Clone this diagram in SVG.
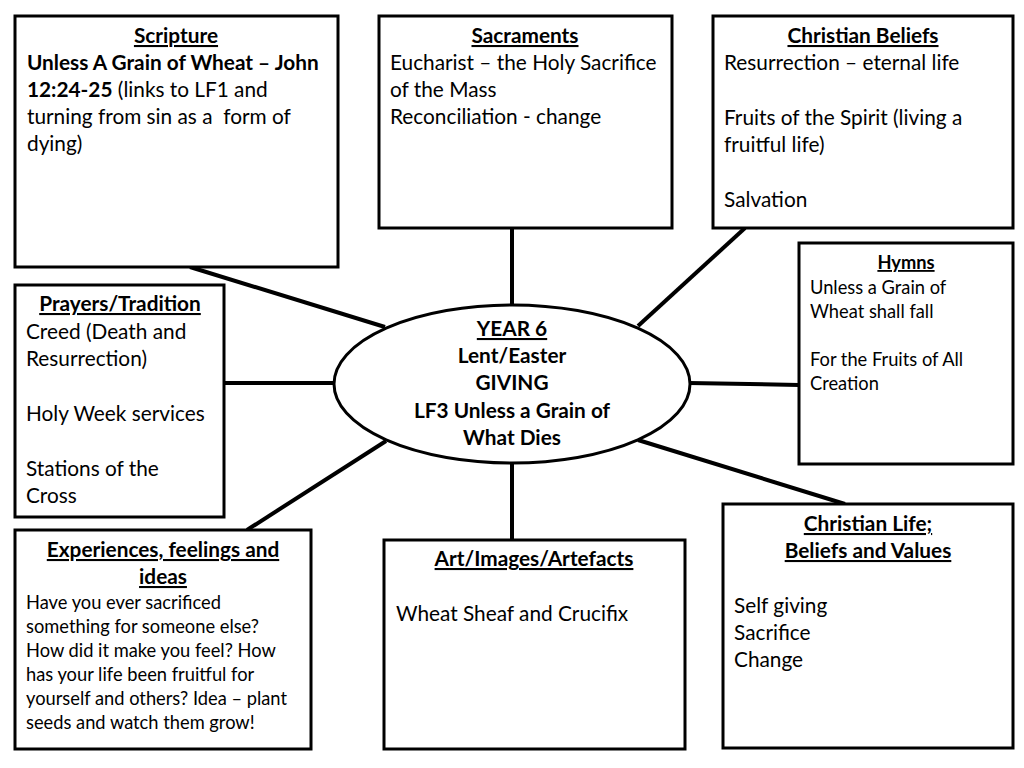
<svg xmlns="http://www.w3.org/2000/svg" width="1024" height="768" viewBox="0 0 1024 768">
<style>
.box{fill:#fff;stroke:#000;stroke-width:3}
.t{font-family:Lato,"Open Sans",sans-serif;font-size:20.8px;fill:#000}
.s{font-family:Lato,"Open Sans",sans-serif;font-size:18.3px;fill:#000}
.b{font-weight:bold}
.u{text-decoration:underline;font-weight:bold}
.c{text-anchor:middle}
.conn line{stroke:#000;stroke-width:4}
</style>
<rect width="1024" height="768" fill="#fff"/>
<g class="conn" id="connectors">
<line x1="190" y1="267" x2="385" y2="327"/>
<line x1="512" y1="228" x2="512" y2="306"/>
<line x1="745" y1="228" x2="638" y2="326"/>
<line x1="689" y1="383" x2="799" y2="385"/>
<line x1="224" y1="383" x2="334" y2="383"/>
<line x1="247" y1="530" x2="386" y2="441"/>
<line x1="512" y1="462" x2="512" y2="540"/>
<line x1="638" y1="440" x2="845" y2="504"/>
</g>
<g id="scripture">
<rect class="box" x="15" y="16" width="323" height="251"/>
<text class="t u c" x="176" y="43">Scripture</text>
<text class="t b" x="27" y="70">Unless A Grain of Wheat – John</text>
<text class="t" x="27" y="97"><tspan class="b">12:24-25</tspan> (links to LF1 and</text>
<text class="t" x="27" y="124" xml:space="preserve">turning from sin as a  form of</text>
<text class="t" x="27" y="151">dying)</text>
</g>
<g id="sacraments">
<rect class="box" x="379" y="16" width="293" height="212"/>
<text class="t u c" x="525" y="43">Sacraments</text>
<text class="t" x="390" y="70">Eucharist – the Holy Sacrifice</text>
<text class="t" x="390" y="97">of the Mass</text>
<text class="t" x="390" y="124">Reconciliation - change</text>
</g>
<g id="christian-beliefs">
<rect class="box" x="713" y="16" width="300" height="212"/>
<text class="t u c" x="863" y="43">Christian Beliefs</text>
<text class="t" x="724" y="70">Resurrection – eternal life</text>
<text class="t" x="724" y="125">Fruits of the Spirit (living a</text>
<text class="t" x="724" y="152">fruitful life)</text>
<text class="t" x="724" y="207">Salvation</text>
</g>
<g id="hymns">
<rect class="box" x="799" y="243" width="214" height="221"/>
<text class="s u c" x="906" y="269">Hymns</text>
<text class="s" x="810" y="294">Unless a Grain of</text>
<text class="s" x="810" y="318">Wheat shall fall</text>
<text class="s" x="810" y="366">For the Fruits of All</text>
<text class="s" x="810" y="390">Creation</text>
</g>
<g id="prayers">
<rect class="box" x="15" y="285" width="209" height="232"/>
<text class="t u c" x="120" y="311">Prayers/Tradition</text>
<text class="t" x="26" y="339">Creed (Death and</text>
<text class="t" x="26" y="366">Resurrection)</text>
<text class="t" x="26" y="421">Holy Week services</text>
<text class="t" x="26" y="476">Stations of the</text>
<text class="t" x="26" y="503">Cross</text>
</g>
<g id="centre">
<ellipse cx="512" cy="384" rx="178" ry="79" fill="#fff" stroke="#000" stroke-width="3"/>
<text class="t u c" x="512" y="336">YEAR 6</text>
<text class="t b c" x="512" y="363">Lent/Easter</text>
<text class="t b c" x="512" y="390">GIVING</text>
<text class="t b c" x="512" y="418">LF3 Unless a Grain of</text>
<text class="t b c" x="512" y="445">What Dies</text>
</g>
<g id="experiences">
<rect class="box" x="15" y="530" width="296" height="219"/>
<text class="t u c" x="163" y="557">Experiences, feelings and</text>
<text class="t u c" x="163" y="584">ideas</text>
<text class="s" x="26" y="609">Have you ever sacrificed</text>
<text class="s" x="26" y="633">something for someone else?</text>
<text class="s" x="26" y="657">How did it make you feel? How</text>
<text class="s" x="26" y="681">has your life been fruitful for</text>
<text class="s" x="26" y="705">yourself and others? Idea – plant</text>
<text class="s" x="26" y="729">seeds and watch them grow!</text>
</g>
<g id="art">
<rect class="box" x="384" y="540" width="301" height="209"/>
<text class="t u c" x="534" y="566">Art/Images/Artefacts</text>
<text class="t" x="396" y="621">Wheat Sheaf and Crucifix</text>
</g>
<g id="christian-life">
<rect class="box" x="723" y="504" width="290" height="244"/>
<text class="t u c" x="868" y="531">Christian Life;</text>
<text class="t u c" x="868" y="558">Beliefs and Values</text>
<text class="t" x="734" y="613">Self giving</text>
<text class="t" x="734" y="640">Sacrifice</text>
<text class="t" x="734" y="667">Change</text>
</g>
</svg>
